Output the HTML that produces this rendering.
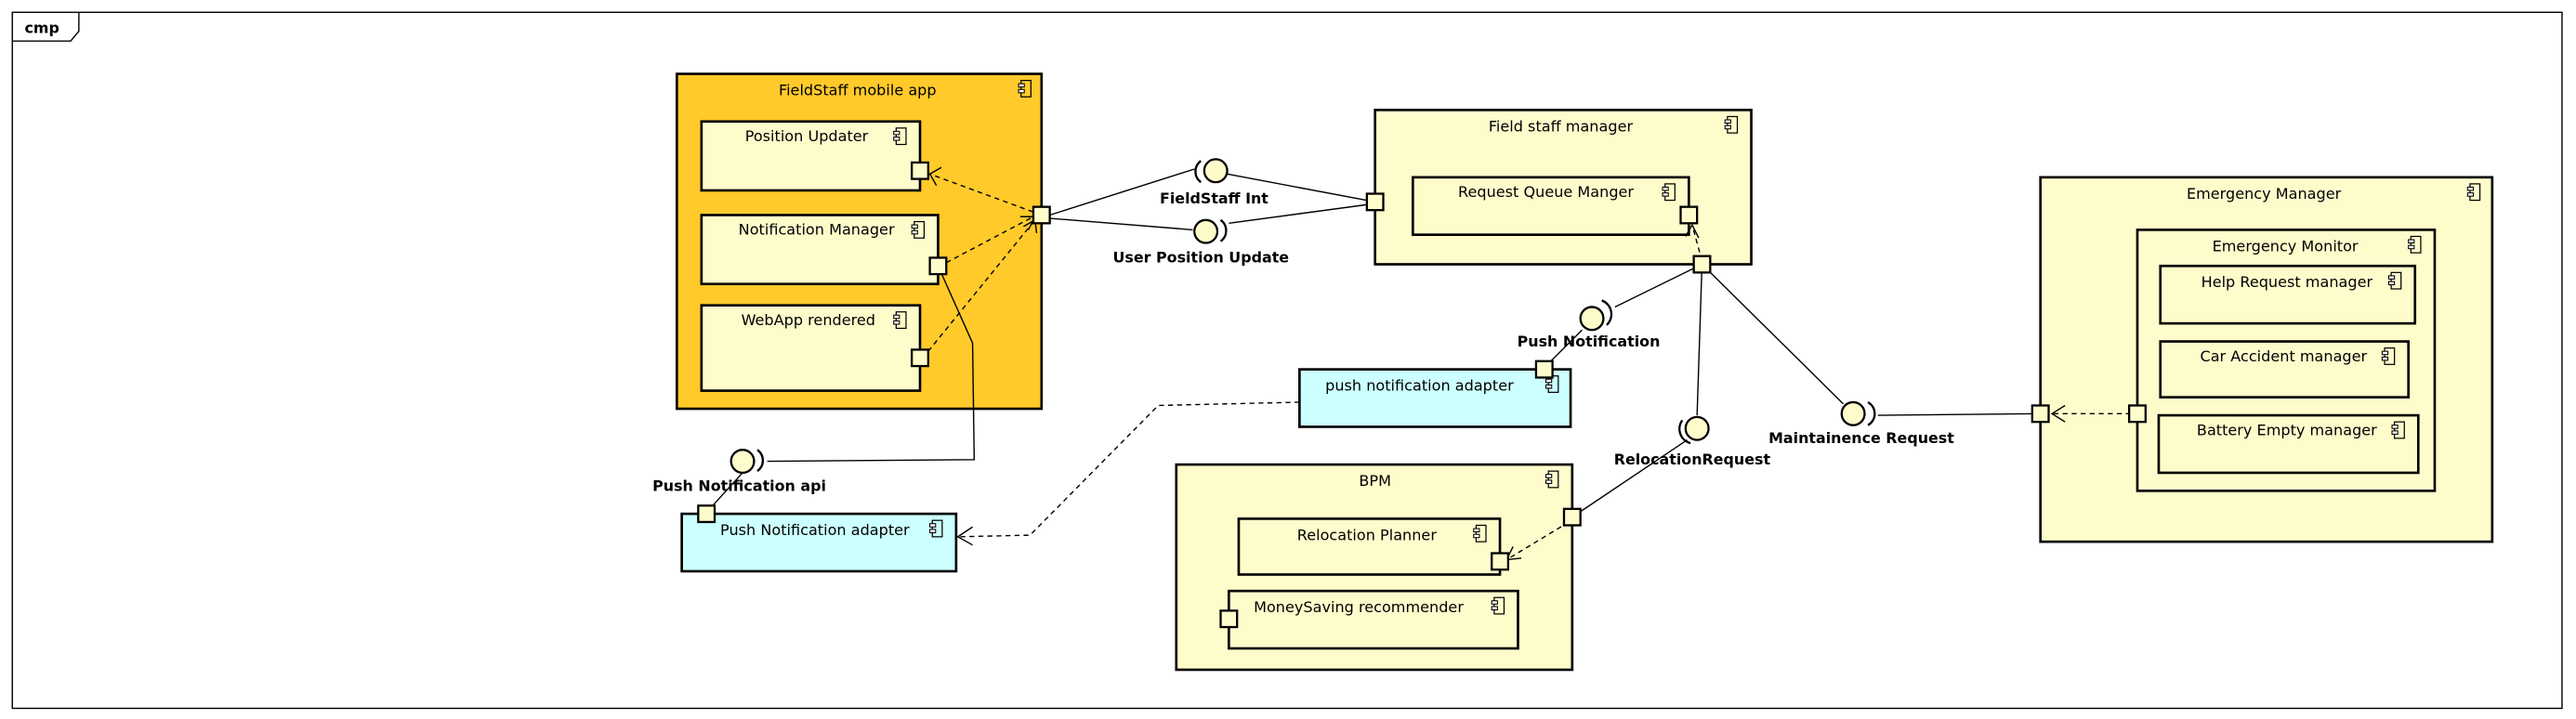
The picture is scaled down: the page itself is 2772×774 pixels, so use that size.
<!DOCTYPE html>
<html><head><meta charset="utf-8"><style>html,body{margin:0;padding:0;background:#fff}svg{display:block}</style></head><body>
<svg width="2772" height="774" viewBox="0 0 1568 438" preserveAspectRatio="none" xmlns="http://www.w3.org/2000/svg" font-family="DejaVu Sans, Liberation Sans, sans-serif">
<defs>
<g id="ic"><rect x="1.5" y="0" width="6" height="10" fill="none" stroke="#000" stroke-width="0.7"/><rect x="0" y="2" width="3.5" height="2" fill="#fff" stroke="#000" stroke-width="0.6"/><rect x="0" y="5.5" width="3.5" height="2" fill="#fff" stroke="#000" stroke-width="0.6"/></g>
</defs>
<rect x="7.5" y="7.5" width="1552" height="424" fill="#fff" stroke="#000" stroke-width="0.8"/>
<path d="M7.5 25 H43 L48 19 V7.5" fill="none" stroke="#000" stroke-width="0.8"/>
<text x="15" y="20" font-size="9" font-weight="bold">cmp</text>

<g stroke="#000" stroke-width="1.5">
<rect x="412" y="45" width="222" height="204" fill="#ffca2a"/>
<rect x="427" y="74" width="133" height="42" fill="#fffccc"/>
<rect x="427" y="131" width="144" height="42" fill="#fffccc"/>
<rect x="427" y="186" width="133" height="52" fill="#fffccc"/>
<rect x="837" y="67" width="229" height="94" fill="#fffccc"/>
<rect x="860" y="108" width="168" height="35" fill="#fffccc"/>
<rect x="791" y="225" width="165" height="35" fill="#ccffff"/>
<rect x="415" y="313" width="167" height="35" fill="#ccffff"/>
<rect x="716" y="283" width="241" height="125" fill="#fffccc"/>
<rect x="754" y="316" width="159" height="34" fill="#fffccc"/>
<rect x="748" y="360" width="176" height="35" fill="#fffccc"/>
<rect x="1242" y="108" width="275" height="222" fill="#fffccc"/>
<rect x="1301" y="140" width="181" height="159" fill="#fffccc"/>
<rect x="1315" y="162" width="155" height="35" fill="#fffccc"/>
<rect x="1315" y="208" width="151" height="34" fill="#fffccc"/>
<rect x="1314" y="253" width="158" height="35" fill="#fffccc"/>
</g>

<g font-size="9.1" text-anchor="middle" fill="#000">
<text x="522" y="58">FieldStaff mobile app</text>
<text x="491" y="86">Position Updater</text>
<text x="497" y="143">Notification Manager</text>
<text x="492" y="198">WebApp rendered</text>
<text x="950" y="80">Field staff manager</text>
<text x="941" y="120">Request Queue Manger</text>
<text x="864" y="238">push notification adapter</text>
<text x="496" y="326">Push Notification adapter</text>
<text x="837" y="296">BPM</text>
<text x="832" y="329">Relocation Planner</text>
<text x="827" y="373">MoneySaving recommender</text>
<text x="1378" y="121">Emergency Manager</text>
<text x="1391" y="153">Emergency Monitor</text>
<text x="1392" y="175">Help Request manager</text>
<text x="1390" y="220">Car Accident manager</text>
<text x="1392" y="265">Battery Empty manager</text>
</g>
<g>
<use href="#ic" x="620" y="49"/><use href="#ic" x="544" y="78"/><use href="#ic" x="555" y="135"/><use href="#ic" x="544" y="190"/>
<use href="#ic" x="1050" y="71"/><use href="#ic" x="1012" y="112"/><use href="#ic" x="941" y="229"/><use href="#ic" x="566" y="317"/>
<use href="#ic" x="941" y="287"/><use href="#ic" x="897" y="320"/><use href="#ic" x="908" y="364"/>
<use href="#ic" x="1502" y="112"/><use href="#ic" x="1466" y="144"/><use href="#ic" x="1454" y="166"/><use href="#ic" x="1450" y="212"/><use href="#ic" x="1456" y="257"/>
</g>

<g fill="none" stroke="#000" stroke-width="0.8">
<path d="M639 131 L727 103"/><path d="M747 106 L837 123"/>
<path d="M639 133 L726 140"/><path d="M748 136 L837 124"/>
<path d="M571 162 L592 209 L593 280 L467 281"/>
<path d="M452 288 L432 310"/>
<path d="M1036 161 L983 187"/>
<path d="M963 201 L942 222"/>
<path d="M1036 161 L1033 253"/>
<path d="M1027 268 L960 313"/>
<path d="M1036 161 L1122 246"/>
<path d="M1143 253 L1242 252"/>
</g>
<g fill="none" stroke="#000" stroke-width="0.8" stroke-dasharray="3,2.5">
<path d="M634 131 L566 106"/>
<path d="M576 160 L629 132"/>
<path d="M565 214 L630 134"/>
<path d="M791 245 L705 247 L627 326 L583 327"/>
<path d="M1036 159 L1030 137"/>
<path d="M955 318 L917 341"/>
<path d="M1297 252 L1249 252"/>
</g>
<g fill="none" stroke="#000" stroke-width="0.8">
<path d="M573 102 L566 106 L570 113"/>
<path d="M621 132 L630 132 L626 140"/>
<path d="M623 138 L630 134 L631 142"/>
<path d="M592 321 L583 327 L592 332"/>
<path d="M1026 144 L1030 137 L1034 145"/>
<path d="M921 333 L917 341 L926 340"/>
<path d="M1257 247 L1249 252 L1257 257"/>
</g>
<g fill="#fffccc" stroke="#000" stroke-width="1.3">
<rect x="629" y="126" width="10" height="10"/>
<rect x="555" y="99" width="10" height="10"/>
<rect x="566" y="157" width="10" height="10"/>
<rect x="555" y="213" width="10" height="10"/>
<rect x="832" y="118" width="10" height="10"/>
<rect x="1023" y="126" width="10" height="10"/>
<rect x="1031" y="156" width="10" height="10"/>
<rect x="935" y="220" width="10" height="10"/>
<rect x="425" y="308" width="10" height="10"/>
<rect x="952" y="310" width="10" height="10"/>
<rect x="908" y="337" width="10" height="10"/>
<rect x="743" y="372" width="10" height="10"/>
<rect x="1237" y="247" width="10" height="10"/>
<rect x="1296" y="247" width="10" height="10"/>
</g>
<g fill="#fffccc" stroke="#000" stroke-width="1.3">
<circle cx="740" cy="104" r="7"/><path d="M731 98 A8 8 0 0 0 731 111" fill="none"/>
<circle cx="734" cy="141" r="7"/><path d="M743 134 A8 8 0 0 1 743 147" fill="none"/>
<circle cx="452" cy="281" r="7"/><path d="M461 274 A8 8 0 0 1 461 287" fill="none"/>
<circle cx="969" cy="194" r="7"/><path d="M975 183 A9 9 0 0 1 978 198" fill="none"/>
<circle cx="1033" cy="261" r="7"/><path d="M1024 256 A9 9 0 0 0 1029 270" fill="none"/>
<circle cx="1128" cy="252" r="7"/><path d="M1137 245 A8 8 0 0 1 1137 259" fill="none"/>
</g>
<g font-size="9" font-weight="bold" text-anchor="middle" fill="#000">
<text x="739" y="124">FieldStaff Int</text>
<text x="731" y="160">User Position Update</text>
<text x="450" y="299">Push Notification api</text>
<text x="967" y="211">Push Notification</text>
<text x="1030" y="283">RelocationRequest</text>
<text x="1133" y="270">Maintainence Request</text>
</g>
</svg>
</body></html>
